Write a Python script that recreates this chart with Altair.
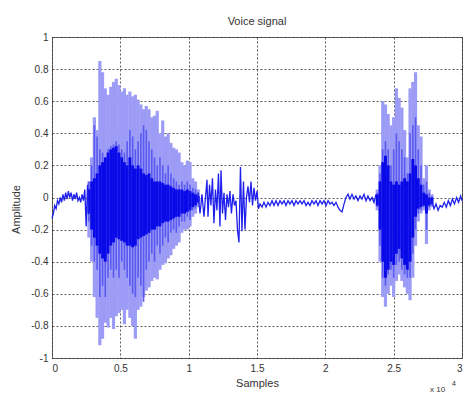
import altair as alt
import pandas as pd

# ---- loud segment 1 (samples, amplitude envelopes) ----
r1_x = [2700, 2900, 3100, 3300, 3500, 3700, 3900, 4100, 4300, 4500, 4700, 4900, 5100, 5300,
        5500, 5700, 5900, 6100, 6300, 6500, 6700, 6900, 7100, 7300, 7500, 7700, 7900, 8100,
        8300, 8500, 8700, 8900, 9100, 9300, 9500, 9700, 9900, 10100, 10300, 10500, 10700]
r1_outer_top = [0.10, 0.25, 0.50, 0.42, 0.85, 0.78, 0.68, 0.64, 0.69, 0.72, 0.74, 0.70, 0.66, 0.68,
                0.64, 0.66, 0.63, 0.64, 0.61, 0.58, 0.55, 0.57, 0.55, 0.50, 0.51, 0.54, 0.40, 0.48,
                0.38, 0.40, 0.34, 0.31, 0.30, 0.28, 0.22, 0.20, 0.23, 0.22, 0.12, 0.10, 0.05]
r1_mid_top = [0.10, 0.20, 0.45, 0.38, 0.30, 0.28, 0.25, 0.30, 0.32, 0.33, 0.35, 0.33, 0.30, 0.28,
              0.35, 0.42, 0.38, 0.30, 0.35, 0.40, 0.45, 0.42, 0.35, 0.30, 0.25, 0.20, 0.25, 0.20,
              0.15, 0.20, 0.15, 0.12, 0.10, 0.08, 0.10, 0.08, 0.10, 0.08, 0.06, 0.05, 0.03]
r1_core_top = [0.05, 0.10, 0.12, 0.15, 0.20, 0.22, 0.25, 0.28, 0.30, 0.31, 0.32, 0.28, 0.25, 0.22,
               0.20, 0.25, 0.20, 0.18, 0.20, 0.18, 0.15, 0.14, 0.15, 0.12, 0.10, 0.10, 0.10, 0.09,
               0.08, 0.08, 0.07, 0.06, 0.05, 0.05, 0.05, 0.04, 0.05, 0.04, 0.03, 0.02, 0.01]
r1_outer_bot = [-0.25, -0.40, -0.62, -0.75, -0.92, -0.88, -0.78, -0.81, -0.75, -0.82, -0.74, -0.72, -0.70, -0.79,
                -0.70, -0.75, -0.80, -0.88, -0.70, -0.68, -0.62, -0.58, -0.56, -0.52, -0.50, -0.51, -0.45, -0.42,
                -0.41, -0.38, -0.36, -0.32, -0.30, -0.28, -0.22, -0.20, -0.20, -0.18, -0.12, -0.10, -0.06]
r1_mid_bot = [-0.15, -0.30, -0.40, -0.45, -0.62, -0.55, -0.62, -0.50, -0.45, -0.50, -0.45, -0.50, -0.40, -0.45,
              -0.50, -0.55, -0.60, -0.62, -0.50, -0.55, -0.65, -0.45, -0.40, -0.35, -0.40, -0.30, -0.35, -0.30,
              -0.25, -0.28, -0.22, -0.20, -0.22, -0.18, -0.15, -0.15, -0.12, -0.14, -0.08, -0.07, -0.04]
r1_core_bot = [-0.10, -0.20, -0.25, -0.30, -0.35, -0.38, -0.40, -0.35, -0.30, -0.28, -0.25, -0.26, -0.27, -0.28,
               -0.30, -0.30, -0.31, -0.30, -0.26, -0.25, -0.24, -0.23, -0.22, -0.20, -0.20, -0.18, -0.18, -0.16,
               -0.15, -0.15, -0.14, -0.13, -0.12, -0.12, -0.10, -0.10, -0.09, -0.08, -0.06, -0.05, -0.03]

# ---- loud segment 2 ----
r3_x = [23800, 24000, 24200, 24400, 24600, 24800, 25000, 25200, 25400, 25600, 25800,
        26000, 26200, 26400, 26600, 26800, 27000, 27200, 27400, 27600, 27800]
r3_outer_top = [0.05, 0.20, 0.60, 0.58, 0.52, 0.45, 0.50, 0.68, 0.62, 0.56, 0.42,
                0.25, 0.68, 0.72, 0.78, 0.45, 0.38, 0.12, 0.20, 0.05, 0.02]
r3_mid_top = [0.03, 0.15, 0.30, 0.35, 0.30, 0.20, 0.30, 0.40, 0.35, 0.30, 0.25,
              0.15, 0.40, 0.45, 0.50, 0.30, 0.20, 0.08, 0.10, 0.03, 0.01]
r3_core_top = [0.02, 0.10, 0.22, 0.26, 0.20, 0.10, 0.08, 0.10, 0.08, 0.10, 0.12,
               0.10, 0.15, 0.24, 0.20, 0.12, 0.08, 0.03, 0.02, 0.00, 0.00]
r3_outer_bot = [-0.08, -0.40, -0.62, -0.68, -0.60, -0.55, -0.62, -0.52, -0.48, -0.52, -0.56,
                -0.60, -0.64, -0.50, -0.30, -0.15, -0.10, -0.08, -0.29, -0.08, -0.06]
r3_mid_bot = [-0.06, -0.30, -0.50, -0.55, -0.48, -0.45, -0.50, -0.42, -0.40, -0.45, -0.48,
              -0.50, -0.50, -0.35, -0.20, -0.10, -0.08, -0.06, -0.20, -0.06, -0.05]
r3_core_bot = [-0.05, -0.20, -0.40, -0.50, -0.45, -0.40, -0.42, -0.35, -0.32, -0.38, -0.42,
               -0.45, -0.40, -0.25, -0.12, -0.07, -0.06, -0.05, -0.10, -0.05, -0.04]

# ---- quiet parts drawn as a plain line ----
qa_x = [0, 100, 200, 300, 400, 500, 600, 700, 800, 900, 1000, 1100, 1200, 1300, 1400,
        1500, 1600, 1700, 1800, 1900, 2000, 2100, 2200, 2300, 2400, 2500, 2600, 2700]
qa_y = [-0.13, -0.10, -0.05, -0.07, -0.02, -0.04, 0.00, -0.03, 0.02, -0.02, 0.03, -0.01, 0.04, 0.00, 0.03,
        -0.02, 0.02, -0.01, 0.03, -0.02, 0.00, -0.03, 0.02, -0.02, 0.05, -0.18, 0.08, -0.10]

qb_x = [10680, 10830, 10975, 11120, 11230, 11340, 11415, 11525, 11630, 11740, 11850, 11960, 12070,
        12180, 12290, 12365, 12475, 12585, 12695, 12805, 12915, 13020, 13130, 13245, 13350, 13465,
        13570, 13680, 13790, 13900, 14010, 14120, 14230, 14340, 14450, 14560, 14670, 14780, 14890,
        15000, 15110, 15220,
        15370, 15510, 15660, 15800, 15950, 16100, 16240, 16390, 16540, 16680, 16830, 16980, 17120,
        17270, 17410, 17560, 17710, 17850, 18000, 18150, 18290, 18440, 18590, 18730, 18880, 19020,
        19170, 19320, 19460, 19610, 19760, 19900, 20050, 20200, 20340, 20490, 20630, 20780, 20930,
        21070, 21220, 21370, 21510, 21660, 21800, 21950, 22100, 22240, 22390, 22540, 22680, 22830,
        22980, 23120, 23270, 23420, 23560, 23710]
qb_y = [0.03, -0.10, 0.02, -0.12, 0.00, 0.11, -0.12, 0.08, -0.05, 0.12, -0.16, 0.05, -0.08,
        0.15, -0.18, 0.17, -0.10, 0.03, -0.14, 0.02, -0.06, 0.04, -0.10, 0.02, -0.05, -0.02,
        -0.20, -0.28, 0.19, -0.21, 0.10, -0.20, 0.00, 0.07, -0.03, 0.10, -0.05, 0.06, -0.02,
        0.04, -0.07, -0.04,
        -0.06, -0.03, -0.06, -0.03, -0.05, -0.02, -0.05, -0.02, -0.05, -0.02, -0.04, -0.02, -0.05,
        -0.02, -0.04, -0.02, -0.05, -0.02, -0.04, -0.02, -0.04, -0.02, -0.05, -0.03, -0.05, -0.02,
        -0.04, -0.02, -0.05, -0.02, -0.04, -0.02, -0.05, -0.02, -0.04, -0.03, -0.05, -0.03, -0.06,
        -0.08, -0.09, -0.04, 0.00, 0.02, -0.01, 0.02, -0.01, 0.01, -0.02, 0.01, -0.01, 0.02,
        -0.02, 0.01, -0.02, 0.00, -0.03, 0.02]

qc_x = [27800, 27950, 28100, 28250, 28400, 28550, 28700, 28850, 29000, 29150, 29300, 29450,
        29600, 29750, 29900, 30000]
qc_y = [-0.02, -0.07, -0.04, -0.08, -0.05, -0.06, -0.03, -0.06, -0.02, -0.05, -0.01, -0.04,
        0.00, -0.03, 0.01, -0.02]

x_ticks = [0, 5000, 10000, 15000, 20000, 25000, 30000]
y_ticks = [-1, -0.8, -0.6, -0.4, -0.2, 0, 0.2, 0.4, 0.6, 0.8, 1]

env = pd.DataFrame({
    "x": r1_x + r3_x,
    "ot": r1_outer_top + r3_outer_top, "ob": r1_outer_bot + r3_outer_bot,
    "mt": r1_mid_top + r3_mid_top, "mb": r1_mid_bot + r3_mid_bot,
    "ct": r1_core_top + r3_core_top, "cb": r1_core_bot + r3_core_bot,
})
quiet = pd.DataFrame({
    "x": qa_x + qb_x + qc_x,
    "y": qa_y + qb_y + qc_y,
    "seg": ["a"] * len(qa_x) + ["b"] * len(qb_x) + ["c"] * len(qc_x),
})

FONT = "Liberation Sans"
xscale = alt.Scale(domain=[0, 30000], nice=False, zero=False)
yscale = alt.Scale(domain=[-1, 1], nice=False)

xaxis = alt.Axis(values=x_ticks, title="Samples",
                 labelExpr="format(datum.value / 10000, '~g')",
                 labelPadding=5, titlePadding=4)
yaxis = alt.Axis(values=y_ticks, title="Amplitude",
                 labelExpr="datum.value < 0 ? '-' + format(-datum.value, '~g') : format(datum.value, '~g')",
                 labelPadding=4, titlePadding=9, titleY=172)


def X(field):
    return alt.X(field, type="quantitative", scale=xscale, axis=xaxis)


def Y(field):
    return alt.Y(field, type="quantitative", scale=yscale, axis=yaxis)


base = alt.Chart(env)
outer = base.mark_rule(color="#9c9cf6", strokeWidth=3.2).encode(
    x=X("x"), y=Y("ob"), y2="ot:Q")
mid = base.mark_rule(color="#5a5af0", strokeWidth=1.6).encode(
    x=X("x"), y=Y("mb"), y2="mt:Q")
core = base.mark_rule(color="#0a0ae8", strokeWidth=2.9).encode(
    x=X("x"), y=Y("cb"), y2="ct:Q")
line = alt.Chart(quiet).mark_line(color="#2020ec", strokeWidth=1.3).encode(
    x=X("x"), y=Y("y"), detail="seg:N")

exp_txt = alt.Chart(pd.DataFrame({"t": ["x 10"]})).mark_text(
    font=FONT, fontSize=8, color="#333", align="left", baseline="middle").encode(
    text="t:N", x=alt.value(378), y=alt.value(353))
exp_sup = alt.Chart(pd.DataFrame({"t": ["4"]})).mark_text(
    font=FONT, fontSize=7, color="#333", align="left", baseline="middle").encode(
    text="t:N", x=alt.value(400), y=alt.value(347))

chart = alt.layer(outer, mid, core, line, exp_txt, exp_sup).properties(
    width=410, height=321,
    title=alt.Title("Voice signal", fontSize=11, fontWeight="normal", font=FONT,
                    color="#333", offset=5, anchor="middle"),
    autosize=alt.AutoSizeParams(type="none"),
    padding={"left": 52, "top": 37, "right": 3, "bottom": 39},
    background="white",
).configure_view(stroke="#666", strokeWidth=1).configure_axis(
    grid=True, gridDash=[2, 2], gridColor="#333", gridOpacity=0.8,
    ticks=False, domain=False, labelOverlap=False, labelBound=False,
    labelFontSize=10, titleFontSize=11, titleFontWeight="normal",
    labelColor="#333", titleColor="#333", labelFont=FONT, titleFont=FONT,
)

chart.save("out.html", embed_options={"renderer": "svg", "actions": False})
